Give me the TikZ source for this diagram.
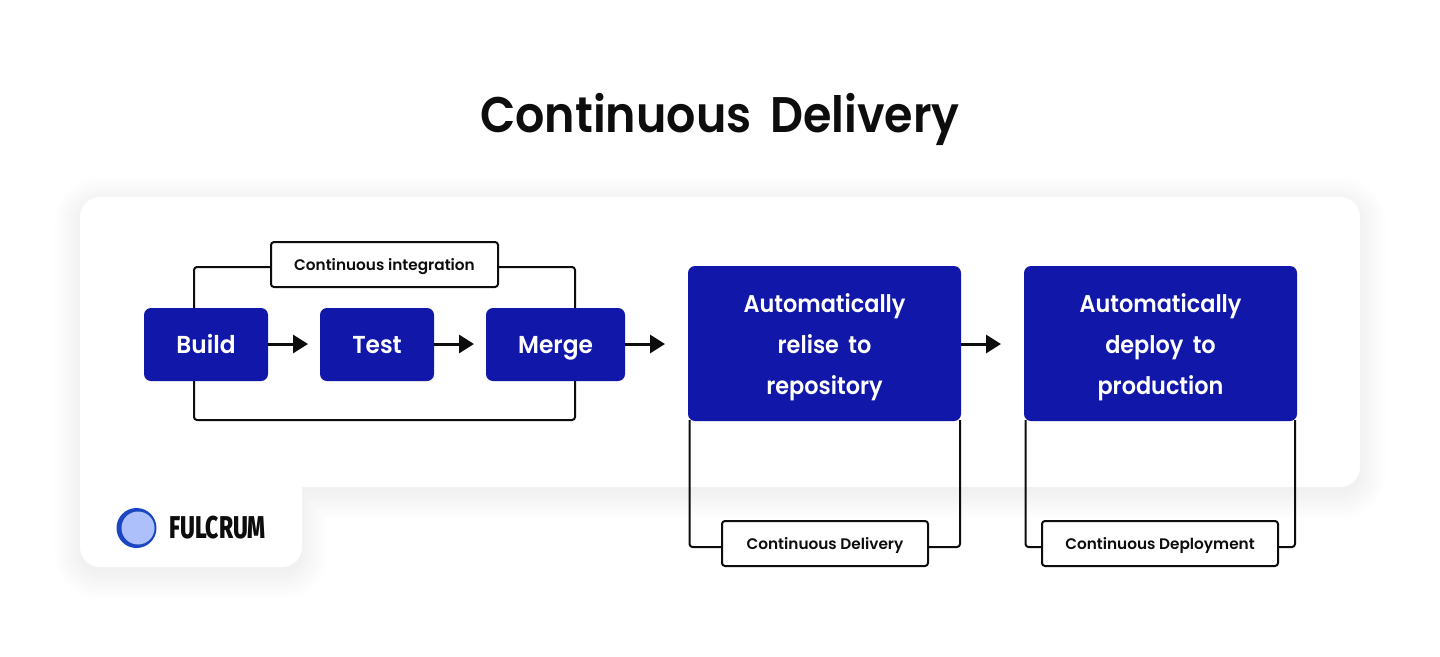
\documentclass[tikz,border=0pt]{standalone}
\usepackage{fontspec}
\setmainfont{Poppins}[BoldFont={Poppins SemiBold}]
\newfontfamily\titlefont{Poppins SemiBold}[FakeStretch=0.92]
\newfontfamily\boxfont{Poppins SemiBold}[FakeStretch=0.95]
\newfontfamily\bigboxfont{Poppins SemiBold}[FakeStretch=0.925]
\newfontfamily\logofont{Fira Sans ExtraBold}[FakeStretch=0.725]
\usetikzlibrary{arrows.meta}
\definecolor{boxblue}{HTML}{1117A9}
\definecolor{ink}{HTML}{0D0D0D}
\definecolor{logodark}{HTML}{1A47C0}
\definecolor{logolight}{HTML}{AEC0FB}
\tikzset{
  x=1pt,y=-1pt,
  bluebox/.style={fill=boxblue,text=white,rounded corners=7pt,inner sep=0pt,anchor=center,text height=17pt,text depth=0pt,font=\boxfont\fontsize{24.5}{41}\selectfont},
  bigbox/.style={fill=boxblue,text=white,rounded corners=7pt,inner sep=0pt,align=center,anchor=center,font=\bigboxfont\fontsize{24.2}{41}\selectfont},
  labelbox/.style={draw=ink,fill=white,line width=2pt,rounded corners=3pt,inner sep=0pt,text=ink,anchor=center,text height=11pt,text depth=0pt,font=\fontsize{15.3}{18}\selectfont\bfseries},
  frame/.style={draw=ink,line width=2pt,rounded corners=3pt},
  flow/.style={draw=ink,line width=3pt,-{Triangle[length=15pt,width=18pt]}},
}
\begin{document}
\begin{tikzpicture}
\useasboundingbox (0,0) rectangle (1440,656);
\fill[white] (0,0) rectangle (1440,656);
% soft shadow
\foreach \r in {26,24,...,0}{
  \fill[black,opacity=0.0042,rounded corners={20pt+\r*1pt}]
    ({80-\r},{203-\r}) rectangle ({1360+\r},{493+\r})
    ({80-\r},{420}) rectangle ({302+\r},{573+\r});
}
% panel
\fill[white,rounded corners=20pt] (80,197) rectangle (1360,487);
\fill[white,rounded corners=20pt] (80,420) rectangle (302,567);
\fill[white] (80,420) rectangle (302,487);
\node[anchor=center,text=ink,text height=36pt,text depth=0pt,inner sep=0pt,font=\titlefont\fontsize{50}{60}\selectfont] (title) at (720,114) {Continuous\hspace{8pt} Delivery};
% nodes
\node[bluebox,minimum width=124pt,minimum height=73pt] (build) at (206,344.5) {Build};
\node[bluebox,minimum width=114pt,minimum height=73pt] (test) at (377,344.5) {Test};
\node[bluebox,minimum width=139pt,minimum height=73pt] (merge) at (555.5,344.5) {Merge};
\coordinate (cil) at (194,308);
\coordinate (cir) at (575,308);
\coordinate (cdl) at (689.5,420);
\coordinate (cdr) at (960,420);
\coordinate (dpl) at (1025.5,420);
\coordinate (dpr) at (1295,420);
\node[labelbox,minimum width=227pt,minimum height=45pt] (ci) at (384.5,264.5) {Continuous integration};
\node[labelbox,minimum width=206pt,minimum height=45pt] (cd) at (825,543.5) {Continuous Delivery};
\node[labelbox,minimum width=236pt,minimum height=45pt] (dp) at (1160,543.5) {Continuous Deployment};
% frames
\draw[frame] (cil) -- (cil |- 0,267) -- (ci.west |- 0,267);
\draw[frame] (cir) -- (cir |- 0,267) -- (ci.east |- 0,267);
\draw[frame] (cil |- build.south) -- (cil |- 0,420) -- (cir |- 0,420) -- (cir |- merge.south);
\draw[frame] (cdl) -- (cdl |- 0,547) -- (cd.west |- 0,547);
\draw[frame] (cdr) -- (cdr |- 0,547) -- (cd.east |- 0,547);
\draw[frame] (dpl) -- (dpl |- 0,547) -- (dp.west |- 0,547);
\draw[frame] (dpr) -- (dpr |- 0,547) -- (dp.east |- 0,547);
% large boxes over the frames
\node[bigbox,minimum width=273pt,minimum height=155pt] (rel) at (824.5,343.5) {\rule{0pt}{26pt}Automatically\\relise\hspace{4pt} to\\repository};
\node[bigbox,minimum width=273pt,minimum height=155pt] (dep) at (1160.5,343.5) {\rule{0pt}{26pt}Automatically\\deploy\hspace{4pt} to\\production};
% arrow ends
\coordinate (tipa) at (308,344);
\coordinate (tipb) at (474,344);
\coordinate (tipc) at (665,344);
\coordinate (tipd) at (1001,344);
\draw[flow] (build.east |- tipa) -- (tipa);
\draw[flow] (test.east |- tipb) -- (tipb);
\draw[flow] (merge.east |- tipc) -- (tipc);
\draw[flow] (rel.east |- tipd) -- (tipd);
% logo
\node[circle,fill=logodark,minimum size=40pt,inner sep=0pt] (logo) at (136.5,528) {};
\fill[logolight] (138,528) circle (16.5);
\node[anchor=west,inner sep=0pt,text=ink,font=\logofont\fontsize{31.5}{32}\selectfont] (brand) at (169,527.5) {FULCRUM};
\end{tikzpicture}
\end{document}
